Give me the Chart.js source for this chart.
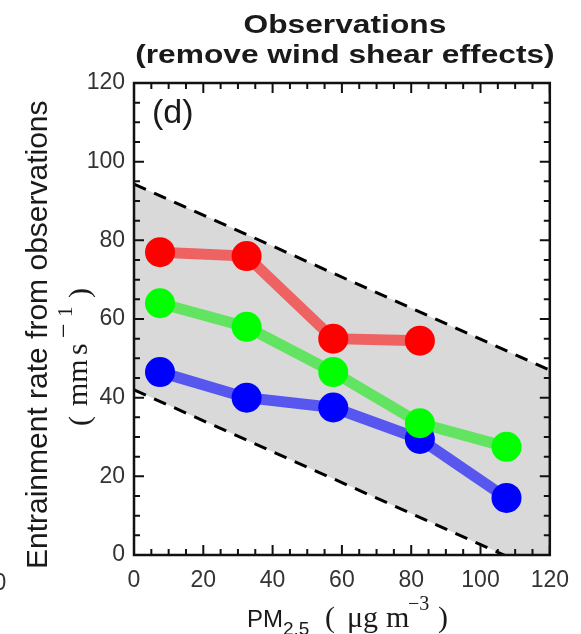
<!DOCTYPE html>
<html lang="en">
<head>
    <meta charset="UTF-8">
    <title>Observations (remove wind shear effects)</title>
    <script src="https://cdn.jsdelivr.net/npm/chart.js"></script>
    <style>
        body {
            margin: 0;
            padding: 0;
            background-color: #fff;
        }
        #chart {
            display: block;
        }
    </style>
</head>
<body>
    <canvas id="chart" width="581" height="634"></canvas>

    <script>
        // PM2.5 bin centres (ug m-3)
        const pmBins = [7.5, 32.5, 57.5, 82.5, 107.5];

        // entrainment rate (mm s-1)
        const redRate = [77, 76, 55, 54.5];
        const greenRate = [64, 58, 46.5, 33.5, 27.5];
        const blueRate = [46.5, 40, 37.5, 29.5, 14.5];

        // dashed envelope lines
        const bandX = [0, 120];
        const bandUpper = [94.3, 47];
        const bandLower = [42, -5.2];

        const axisTicks = [0, 20, 40, 60, 80, 100, 120];

        function toPoints(xs, ys) {
            return ys.map((y, i) => ({ x: xs[i], y: y }));
        }

        const serif = '"Liberation Serif", "DejaVu Serif", serif';
        const sans = '"Liberation Sans", Arial, sans-serif';

        // frame, inward ticks and all the labels that are not tick labels
        const decorations = {
            id: 'decorations',
            afterDraw(chart) {
                const ctx = chart.ctx;
                const a = chart.chartArea;
                const xs = chart.scales.x;
                const ys = chart.scales.y;

                ctx.save();
                ctx.strokeStyle = '#111';
                ctx.lineWidth = 2;
                for (let v = 0; v <= 120; v += 5) {
                    const len = v % 20 === 0 ? 10 : 6;
                    const px = xs.getPixelForValue(v);
                    const py = ys.getPixelForValue(v);
                    ctx.beginPath();
                    ctx.moveTo(px, a.bottom); ctx.lineTo(px, a.bottom - len);
                    ctx.moveTo(px, a.top); ctx.lineTo(px, a.top + len);
                    ctx.moveTo(a.left, py); ctx.lineTo(a.left + len, py);
                    ctx.moveTo(a.right, py); ctx.lineTo(a.right - len, py);
                    ctx.stroke();
                }
                ctx.lineWidth = 2.5;
                ctx.strokeRect(a.left, a.top, a.right - a.left, a.bottom - a.top);

                ctx.fillStyle = '#1a1a1a';
                ctx.textBaseline = 'alphabetic';

                // title, a bit wider than the plain font
                const cx = (a.left + a.right) / 2 + 3;
                ctx.font = 'bold 26px ' + sans;
                ctx.textAlign = 'center';
                [['Observations', 33], ['(remove wind shear effects)', 63]].forEach(([t, y]) => {
                    ctx.save();
                    ctx.translate(cx, y);
                    ctx.scale(1.22, 1);
                    ctx.fillText(t, 0, 0);
                    ctx.restore();
                });

                // panel letter
                ctx.textAlign = 'left';
                ctx.font = '34px ' + sans;
                ctx.fillText('(d)', a.left + 18, a.top + 40);

                // x axis title
                ctx.font = '24px ' + sans;
                ctx.fillText('PM', 247, 627);
                ctx.font = '19px ' + sans;
                ctx.fillText('2.5', 283, 635);
                ctx.font = '30px ' + serif;
                ctx.fillText('(', 325, 627);
                ctx.fillText('\u03bcg', 347, 627);
                ctx.fillText('m', 386, 627);
                ctx.fillText(')', 438, 627);
                ctx.font = '20px ' + serif;
                ctx.fillText('\u22123', 408, 610);

                // y axis title, rotated
                function rot(text, font, bx, startY) {
                    ctx.save();
                    ctx.translate(bx, startY);
                    ctx.rotate(-Math.PI / 2);
                    ctx.font = font;
                    ctx.textAlign = 'left';
                    ctx.fillText(text, 0, 0);
                    ctx.restore();
                }
                rot('Entrainment rate from observations', '30px ' + sans, 47, 569);
                rot('(', '30px ' + serif, 89, 426);
                rot('mm', '30px ' + serif, 87, 406);
                rot('s', '30px ' + serif, 87, 355);
                rot('\u2212', '26px ' + serif, 72, 338);
                rot('1', '21px ' + serif, 72, 317);
                rot(')', '30px ' + serif, 89, 298);

                // clipped tick label of the neighbouring panel
                ctx.font = '23px ' + sans;
                ctx.fillStyle = '#333';
                ctx.textAlign = 'center';
                ctx.fillText('0', 0, 590);
                ctx.restore();
            }
        };

        function lineSet(values, colour, lineColour, order) {
            return {
                data: toPoints(pmBins, values),
                showLine: true,
                borderColor: lineColour,
                borderWidth: 11,
                pointRadius: 15,
                pointHoverRadius: 15,
                pointBackgroundColor: colour,
                pointBorderWidth: 0,
                fill: false,
                order: order
            };
        }

        const ctx = document.getElementById('chart').getContext('2d');
        new Chart(ctx, {
            type: 'scatter',
            data: {
                datasets: [
                    {
                        data: toPoints(bandX, bandUpper),
                        showLine: true,
                        borderColor: '#000',
                        borderWidth: 3,
                        borderDash: [13, 9],
                        pointRadius: 0,
                        fill: false,
                        clip: 0,
                        order: 5
                    },
                    {
                        data: toPoints(bandX, bandLower),
                        showLine: true,
                        borderColor: '#000',
                        borderWidth: 3,
                        borderDash: [13, 9],
                        pointRadius: 0,
                        backgroundColor: '#d9d9d9',
                        fill: '-1',
                        clip: 0,
                        order: 4
                    },
                    lineSet(blueRate, '#0000ff', 'rgba(0, 0, 255, 0.6)', 3),
                    lineSet(greenRate, '#00ff00', 'rgba(0, 235, 0, 0.55)', 2),
                    lineSet(redRate, '#ff0000', 'rgba(255, 0, 0, 0.55)', 1)
                ]
            },
            options: {
                responsive: false,
                animation: false,
                layout: {
                    padding: { left: 0, right: 31, top: 83, bottom: 0 }
                },
                plugins: {
                    legend: { display: false },
                    tooltip: { enabled: false },
                    filler: { drawTime: 'beforeDatasetsDraw' }
                },
                scales: {
                    x: {
                        type: 'linear',
                        min: 0,
                        max: 120,
                        afterFit: (scale) => { scale.height = 79; },
                        afterBuildTicks: (scale) => { scale.ticks = axisTicks.map(v => ({ value: v })); },
                        grid: { display: false, drawTicks: false },
                        border: { display: false },
                        ticks: {
                            padding: 12,
                            color: '#333',
                            font: { family: sans, size: 23 },
                            maxRotation: 0
                        }
                    },
                    y: {
                        type: 'linear',
                        min: 0,
                        max: 120,
                        afterFit: (scale) => { scale.width = 134; },
                        afterBuildTicks: (scale) => { scale.ticks = axisTicks.map(v => ({ value: v })); },
                        grid: { display: false, drawTicks: false },
                        border: { display: false },
                        ticks: {
                            padding: 9,
                            color: '#333',
                            font: { family: sans, size: 23 }
                        }
                    }
                }
            },
            plugins: [decorations]
        });
    </script>
</body>
</html>
